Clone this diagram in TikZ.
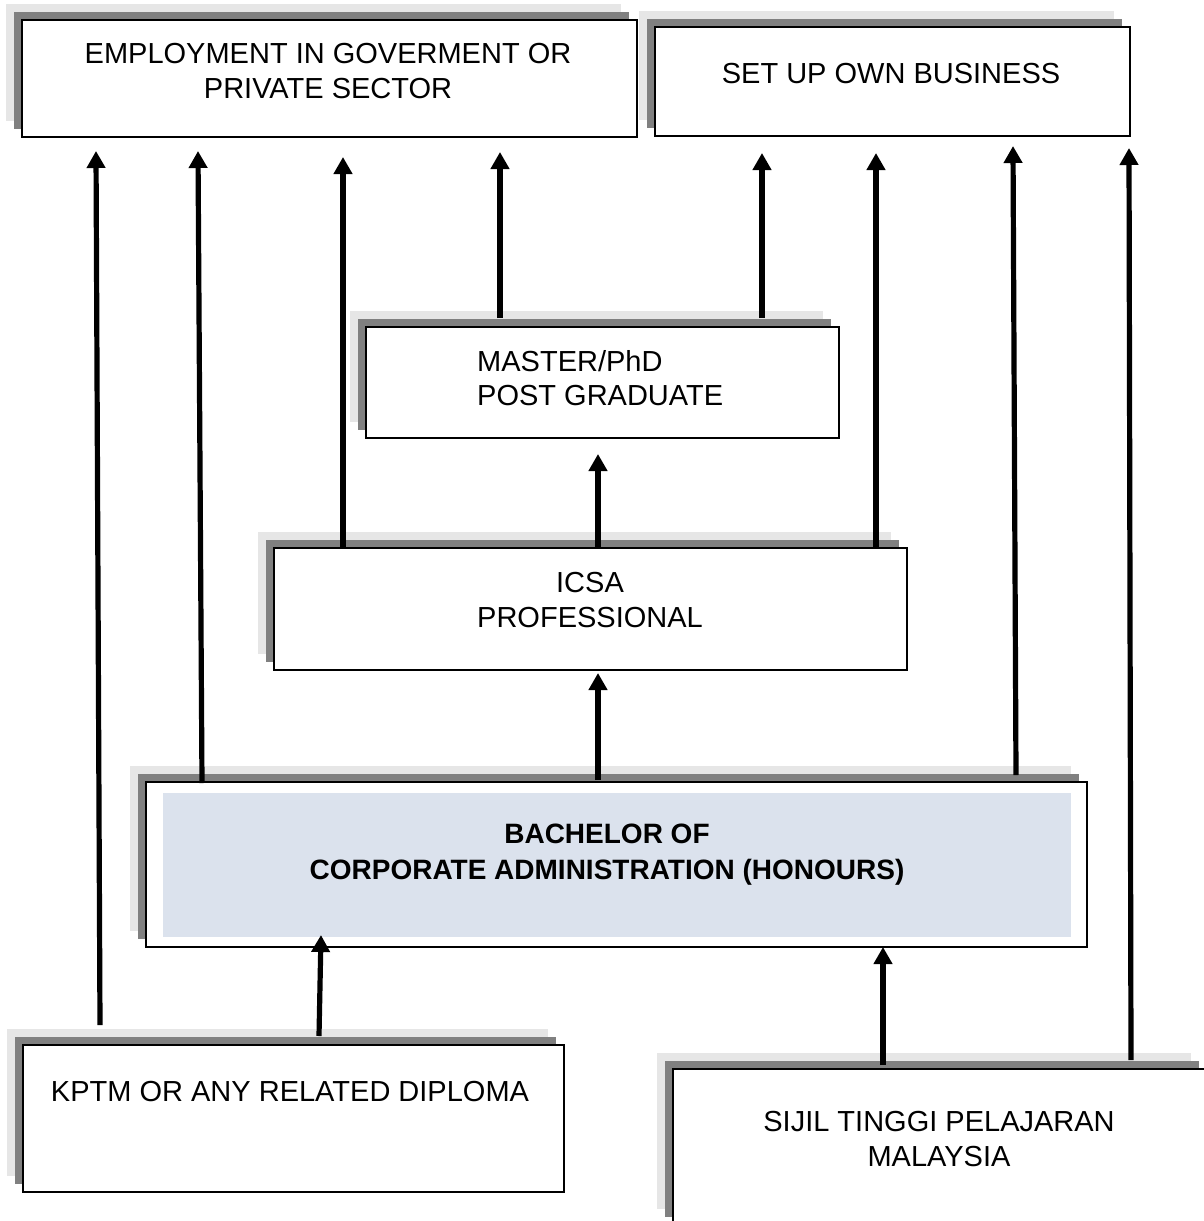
\documentclass[tikz,border=0pt]{standalone}
\usepackage{fontspec}
\setmainfont{Liberation Sans}
\usetikzlibrary{arrows.meta,shadows}
\definecolor{shdark}{HTML}{808080}
\definecolor{shlight}{HTML}{E6E6E6}
\definecolor{bachfill}{HTML}{DBE2ED}
\tikzset{
  box/.style={draw=black, line width=1.3pt, fill=white, inner sep=0pt,
    general shadow={shadow xshift=-16pt, shadow yshift=16pt, fill=shlight, draw=none},
    general shadow={shadow xshift=-8pt, shadow yshift=8pt, fill=shdark, draw=none}},
  lbl/.style={font=\fontsize{29}{34.5}\selectfont, align=center, inner sep=0pt},
  blbl/.style={font=\fontsize{28}{36}\selectfont\bfseries, align=center, inner sep=0pt},
  arr/.style={line width=5.2pt, -{Triangle[width=18pt,length=17pt]}}
}
\begin{document}
\begin{tikzpicture}[x=1pt,y=-1pt]
\useasboundingbox (0,0) rectangle (1203,1221);
% boxes
\node[box, minimum width=615pt, minimum height=117pt] (emp) at (329.5,78.5) {};
\node[box, minimum width=475pt, minimum height=109pt] (biz) at (892.5,81.5) {};
\node[box, minimum width=473pt, minimum height=111pt] (mst) at (602.5,382.5) {};
\node[box, minimum width=633pt, minimum height=122pt] (icsa) at (590.5,609) {};
\node[box, minimum width=941pt, minimum height=165pt] (bach) at (616.5,864.5) {};
\node[fill=bachfill, inner sep=0pt, minimum width=908pt, minimum height=144pt] (bachin) at (617,865) {};
\node[box, minimum width=541pt, minimum height=147pt] (kptm) at (293.5,1118.5) {};
\node[box, minimum width=534pt, minimum height=156pt] (sijil) at (940,1147) {};
% texts
\node[lbl] (tEmp) at (328,71) {EMPLOYMENT IN GOVERMENT OR\\PRIVATE SECTOR};
\node[lbl] (tBiz) at (891,74) {SET UP OWN BUSINESS};
\node[lbl, align=left, anchor=west] (tMst) at (477,378) {MASTER/PhD\\POST GRADUATE};
\node[lbl] (tIcsa) at (590,600) {ICSA\\PROFESSIONAL};
\node[blbl] (tBach) at (607,855) {BACHELOR OF\\CORPORATE ADMINISTRATION (HONOURS)};
\node[lbl] (tKptm) at (290,1092) {KPTM OR ANY RELATED DIPLOMA};
\node[lbl] (tSijil) at (939,1139) {SIJIL TINGGI PELAJARAN\\MALAYSIA};
% connector end points
\coordinate (a1s) at (100,1025); \coordinate (a1e) at (96,151);
\coordinate (a2s) at (202,783);  \coordinate (a2e) at (198,151);
\coordinate (a3s) at (343,548);  \coordinate (a3e) at (343,157);
\coordinate (a4s) at (500,318);  \coordinate (a4e) at (500,152);
\coordinate (a5s) at (762,318);  \coordinate (a5e) at (762,153);
\coordinate (a6s) at (876,548);  \coordinate (a6e) at (876,153);
\coordinate (a7s) at (1016,775); \coordinate (a7e) at (1013,146);
\coordinate (a8s) at (1131,1060);\coordinate (a8e) at (1129,148);
\coordinate (a9s) at (598,548);  \coordinate (a9e) at (598,454);
\coordinate (a10s) at (598,780); \coordinate (a10e) at (598,673);
\coordinate (a11s) at (319,1036);\coordinate (a11e) at (321,935);
\coordinate (a12s) at (883,1065);\coordinate (a12e) at (883,947);
\foreach \i in {1,...,12} {\draw[arr] (a\i s) -- (a\i e);}
\end{tikzpicture}
\end{document}
